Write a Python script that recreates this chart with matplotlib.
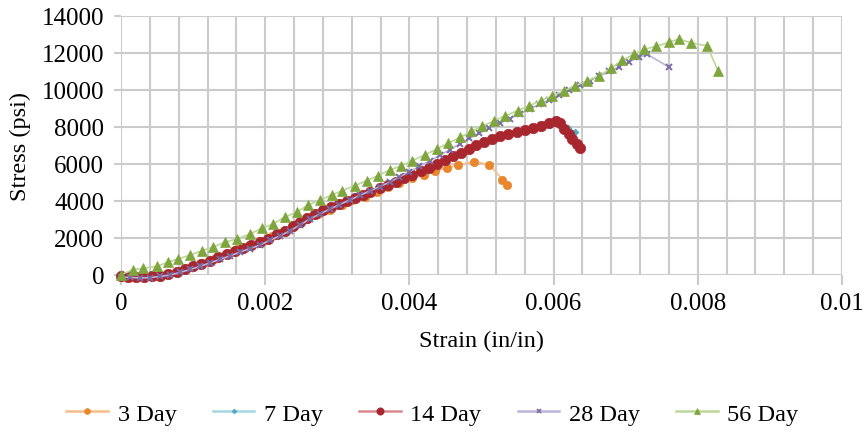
import numpy as np
import matplotlib
matplotlib.use("Agg")
import matplotlib.pyplot as plt
from matplotlib.lines import Line2D
from matplotlib.ticker import MultipleLocator

plt.rcParams['font.family'] = ['Liberation Serif', 'DejaVu Serif']

# data
labels = ['3 Day', '7 Day', '14 Day', '28 Day', '56 Day']

strain_3 = [0, 0.00017, 0.00032, 0.00049, 0.00064, 0.0008, 0.00097, 0.00112, 0.00129, 0.00145,
            0.00161, 0.00177, 0.00193, 0.00209, 0.00226, 0.00241, 0.00258, 0.00273, 0.0029, 0.00306,
            0.00321, 0.00338, 0.00355, 0.00371, 0.00386, 0.00403, 0.0042, 0.00436, 0.00452, 0.00468,
            0.00489, 0.00511, 0.00529, 0.00535]
stress_3 = [-50, -110, -110, -50, 50, 220, 430, 650, 890, 1140,
            1380, 1620, 1840, 2110, 2380, 2680, 3030, 3300, 3540, 3780,
            4030, 4240, 4460, 4730, 4970, 5220, 5430, 5620, 5780, 5950,
            6130, 5970, 5160, 4840]

strain_7 = [0, 0.0002, 0.0004, 0.0006, 0.0008, 0.001, 0.0012, 0.0014, 0.0016, 0.0018,
            0.002, 0.0022, 0.0024, 0.0026, 0.0028, 0.003, 0.0032, 0.0034, 0.0036, 0.0038,
            0.004, 0.0042, 0.0044, 0.0046, 0.0048, 0.005, 0.0052, 0.0054, 0.0056, 0.0058,
            0.006, 0.0061, 0.0062, 0.0063]
stress_7 = [-60, -100, -80, 20, 180, 450, 740, 1030, 1330, 1620,
            1920, 2280, 2700, 3100, 3480, 3800, 4100, 4420, 4700, 5020,
            5330, 5640, 6000, 6420, 6780, 7110, 7400, 7610, 7840, 8070,
            8270, 8250, 7950, 7720]

strain_14 = [0, 0.0001, 0.00021, 0.00032, 0.00043, 0.00054, 0.00065, 0.00078, 0.00089, 0.001,
             0.00111, 0.00123, 0.00134, 0.00147, 0.00158, 0.00169, 0.0018, 0.00193, 0.00204, 0.00216,
             0.00227, 0.00238, 0.00248, 0.00258, 0.00269, 0.0028, 0.00291, 0.00302, 0.00313, 0.00324,
             0.00335, 0.00346, 0.00359, 0.0037, 0.00381, 0.00392, 0.00404, 0.00416, 0.00427, 0.00438,
             0.00449, 0.0046, 0.00471, 0.00482, 0.00493, 0.00504, 0.00515, 0.00526, 0.00537, 0.00549,
             0.0056, 0.00571, 0.00582, 0.00593, 0.00603, 0.00609, 0.00615, 0.00621, 0.00626, 0.00632,
             0.00636]
stress_14 = [-80, -100, -110, -100, -80, -40, 30, 150, 300, 460,
             620, 780, 950, 1140, 1300, 1460, 1620, 1780, 1970, 2190,
             2400, 2650, 2870, 3080, 3300, 3500, 3680, 3850, 4020, 4180,
             4340, 4510, 4680, 4840, 5050, 5240, 5430, 5620, 5810, 6000,
             6220, 6430, 6620, 6810, 7000, 7190, 7350, 7490, 7620, 7730,
             7840, 7970, 8080, 8220, 8300, 8220, 7890, 7620, 7350, 7080,
             6860]

strain_28 = [0, 0.000125, 0.00026, 0.0004, 0.00054, 0.00068, 0.00082, 0.00096, 0.00109, 0.00123,
             0.00137, 0.00151, 0.00165, 0.00179, 0.00193, 0.00206, 0.0022, 0.00234, 0.00248, 0.00262,
             0.00276, 0.0029, 0.00303, 0.00317, 0.00331, 0.00345, 0.00359, 0.00373, 0.00386, 0.004,
             0.00414, 0.00428, 0.00442, 0.00456, 0.0047, 0.00483, 0.00497, 0.00511, 0.00525, 0.00539,
             0.00553, 0.00567, 0.0058, 0.00594, 0.00608, 0.00622, 0.00636, 0.0065, 0.00663, 0.00677,
             0.00691, 0.00705, 0.00719, 0.00729, 0.0076]
stress_28 = [-110, -130, -160, -140, -80, 0, 140, 300, 460, 650,
             840, 1030, 1240, 1430, 1620, 1870, 2110, 2380, 2700, 3030,
             3300, 3570, 3810, 4050, 4300, 4540, 4780, 5030, 5300, 5580,
             5870, 6170, 6470, 6780, 7090, 7380, 7660, 7930, 8190, 8450,
             8710, 8970, 9220, 9480, 9740, 10000, 10260, 10510, 10740, 11000,
             11260, 11530, 11780, 11950, 11240]

strain_56 = [0, 0.00017, 0.0003, 0.0005, 0.00065, 0.00079, 0.00096, 0.00112, 0.00127, 0.00144,
             0.00161, 0.00179, 0.00195, 0.00211, 0.00227, 0.00244, 0.00259, 0.00276, 0.00292, 0.00307,
             0.00324, 0.00341, 0.00356, 0.00373, 0.00389, 0.00404, 0.00421, 0.00438, 0.00453, 0.0047,
             0.00486, 0.00501, 0.00518, 0.00533, 0.0055, 0.00566, 0.00582, 0.00598, 0.00615, 0.0063,
             0.00647, 0.00663, 0.0068, 0.00695, 0.00712, 0.00726, 0.00742, 0.0076, 0.00774, 0.00791,
             0.00813, 0.00828]
stress_56 = [20, 290, 360, 470, 690, 870, 1080, 1310, 1500, 1770,
             1950, 2220, 2520, 2760, 3130, 3400, 3780, 4050, 4320, 4560,
             4830, 5100, 5370, 5680, 5910, 6180, 6490, 6810, 7110, 7440,
             7760, 8050, 8340, 8610, 8880, 9150, 9420, 9690, 9960, 10230,
             10500, 10770, 11180, 11600, 11950, 12200, 12360, 12580, 12760, 12540,
             12390, 11040]

x_ticks = [0, 0.002, 0.004, 0.006, 0.008, 0.01]
x_tick_labels = ['0', '0.002', '0.004', '0.006', '0.008', '0.01']
y_ticks = [0, 2000, 4000, 6000, 8000, 10000, 12000, 14000]

# styling per series: (marker colour, line colour, marker, size)
styles = [
    ('#E8872C', '#F4BD8A', 'o', 6.0),
    ('#4BACC6', '#A6D7E4', 'D', 3.5),
    ('#A8262E', '#D88A8F', 'o', 7.5),
    ('#7B6CA8', '#BDB3D8', 'x', 4.5),
    ('#7FA63E', '#BCD79A', '^', 6.5),
]
series = [(strain_3, stress_3), (strain_7, stress_7), (strain_14, stress_14),
          (strain_28, stress_28), (strain_56, stress_56)]

fig = plt.figure(figsize=(8.65, 4.35), dpi=100)
ax = fig.add_axes([121 / 865, 1 - 276 / 435, (842 - 121) / 865, (276 - 17) / 435])

grid_c = '#CBCBCB'
for (xs, ys), (mc, lc, mk, ms) in zip(series, styles):
    ax.plot(xs, ys, color=lc, lw=1.2, marker=mk, ms=ms, mfc=mc, mec=mc,
            mew=1.4 if mk == 'x' else 0.5, clip_on=False, zorder=3)

ax.set_xlim(0, 0.01)
ax.set_ylim(0, 14000)
ax.set_xticks(x_ticks)
ax.set_xticklabels(x_tick_labels)
ax.xaxis.set_minor_locator(MultipleLocator(0.0004))
ax.set_yticks(y_ticks)
ax.set_axisbelow(True)
ax.grid(which='both', axis='x', color=grid_c, lw=1.5)
ax.grid(which='major', axis='y', color=grid_c, lw=1.5)
for s in ax.spines.values():
    s.set_visible(False)

ax.tick_params(axis='x', which='major', length=7, width=1.5, color=grid_c, pad=5, labelsize=18)
ax.tick_params(axis='x', which='minor', length=0)
ax.tick_params(axis='y', which='major', length=5, width=1.5, color=grid_c, pad=7, labelsize=18)

ax.set_xlabel('Strain (in/in)', fontsize=17.5, labelpad=12)
ax.set_ylabel('Stress (psi)', fontsize=17.5, labelpad=8)

handles = [Line2D([], [], color=lc, lw=1.8, marker=mk, ms=ms * 0.7, mfc=mc, mec=mc,
                  mew=1.2 if mk == 'x' else 0.5) for (mc, lc, mk, ms) in styles]
fig.legend(handles, labels, loc='center', bbox_to_anchor=(0.5, 1 - 415 / 435), ncol=5,
           frameon=False, fontsize=17.5, handlelength=1.7, handletextpad=0.4, columnspacing=1.5)

fig.savefig('out.png', dpi=100)
